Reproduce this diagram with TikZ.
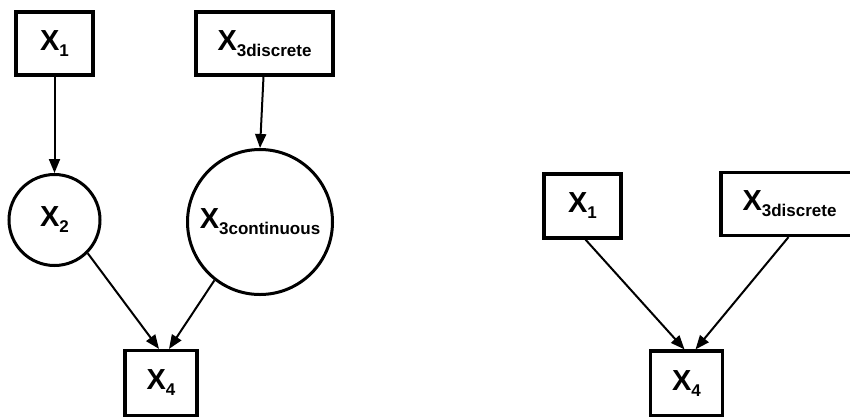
\documentclass[tikz,border=0pt]{standalone}
\usepackage{fontspec}
\setmainfont{Liberation Sans}
\usetikzlibrary{arrows.meta}
\begin{document}
\begin{tikzpicture}[x=1pt,y=-1pt,
  boxnode/.style={draw,line width=3.2pt,rectangle,inner sep=0pt,font=\fontsize{29}{30}\selectfont\bfseries},
  circnode/.style={draw,line width=3pt,circle,inner sep=0pt,font=\fontsize{29}{30}\selectfont\bfseries},
  conn/.style={line width=2pt,-{Triangle[length=14pt,width=11pt]}}]
\useasboundingbox (0,0) rectangle (850,416);
\newcommand{\lbl}[2]{X\raisebox{-6pt}{\fontsize{17}{18}\selectfont #2}}
\begin{scope}
\clip (0,0) rectangle (850,416);
% left diagram
\node[boxnode,minimum width=77pt,minimum height=63pt] (a1) at (54.5,43.5) {\lbl{X}{1}};
\node[boxnode,minimum width=137pt,minimum height=63pt] (a3d) at (264.5,43.5) {\lbl{X}{3discrete}};
\node[circnode,minimum size=91pt] (a2) at (54.5,220) {\lbl{X}{2}};
\node[circnode,minimum size=145pt] (a3c) at (260,222) {\lbl{X}{3continuous}};
\node[boxnode,minimum width=72pt,minimum height=65pt] (a4) at (161,383) {\lbl{X}{4}};
% right diagram
\node[boxnode,minimum width=77pt,minimum height=64pt] (b1) at (582.5,206) {\lbl{X}{1}};
\node[boxnode,minimum width=137pt,minimum height=63pt] (b3d) at (789.5,204) {\lbl{X}{3discrete}};
\node[boxnode,minimum width=72pt,minimum height=65pt] (b4) at (686.5,383.5) {\lbl{X}{4}};
\end{scope}
\draw[conn] (a1.south) -- (a2.north);
\draw[conn] ([xshift=-1pt]a3d.south) -- (a3c.north);
\draw[conn] (a2.-45) -- ([xshift=-2pt]a4.north);
\draw[conn] (a3c.232) -- ([xshift=8pt]a4.north);
\draw[conn] ([xshift=3pt]b1.south) -- ([xshift=-2pt]b4.north);
\draw[conn] ([xshift=-1pt]b3d.south) -- ([xshift=9pt]b4.north);
\end{tikzpicture}
\end{document}
